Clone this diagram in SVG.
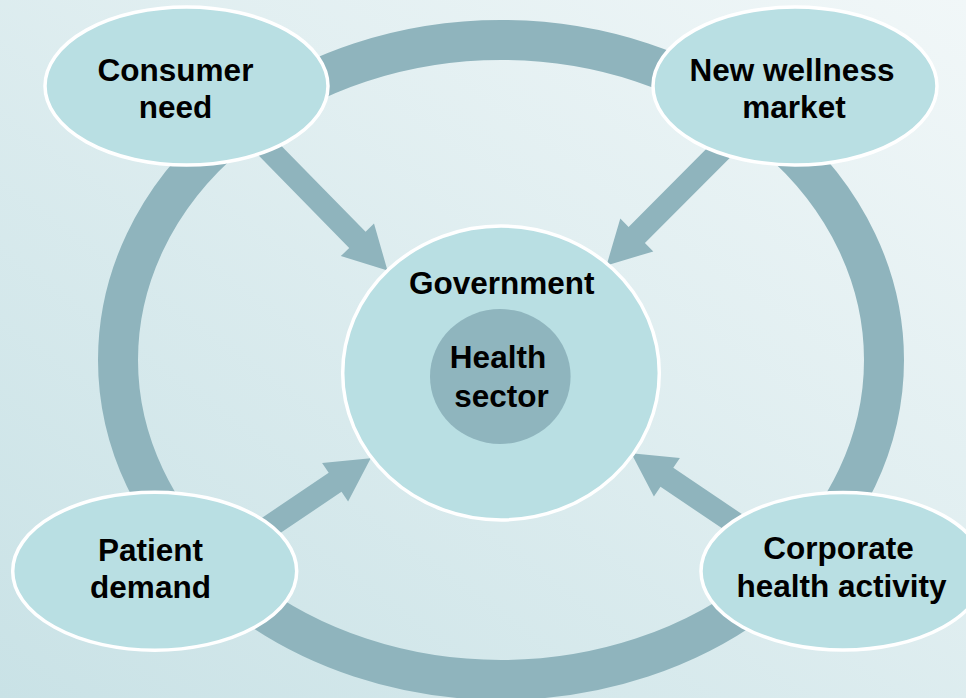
<svg xmlns="http://www.w3.org/2000/svg" width="966" height="698" viewBox="0 0 966 698">
<defs>
<linearGradient id="bg" x1="0" y1="1" x2="1" y2="0">
<stop offset="0" stop-color="#c9e2e6"/>
<stop offset="1" stop-color="#f1f7f8"/>
</linearGradient>
<style>
.node{fill:#b9dfe3;stroke:#ffffff;stroke-width:3.5}
.core{fill:#8fb5be}
.arrow{fill:#8fb4bd}
.ring{fill:none;stroke:#8fb4bd;stroke-width:40}
text{font-family:"Liberation Sans",Arial,sans-serif;font-weight:bold;font-size:31.5px;fill:#000;text-anchor:middle}
</style>
</defs>
<rect x="0" y="0" width="966" height="698" fill="url(#bg)"/>
<g id="cycle">
<ellipse class="ring" cx="501" cy="360" rx="383" ry="320"/>
</g>
<g id="connectors">
<polygon class="arrow" points="253.3,150.1 349.2,247.9 340.8,256.1 387.5,270.5 374,223.5 365.6,231.8 269.7,134"/>
<polygon class="arrow" points="748.7,138.9 644.9,243.1 653.3,251.4 606.5,265.5 620.3,218.6 628.6,226.9 732.3,122.7"/>
<polygon class="arrow" points="236.2,562.8 341.5,491.8 348.1,501.6 370.7,458.3 322.1,463 328.7,472.8 223.4,543.8"/>
<polygon class="arrow" points="765.8,557.8 660.5,486.8 653.9,496.6 631.3,453.3 679.9,458 673.3,467.8 778.6,538.8"/>
</g>
<g id="consumer-need">
<ellipse class="node" cx="186.5" cy="86" rx="141.5" ry="79"/>
<text x="175.5" y="81">Consumer</text>
<text x="175.5" y="118.3">need</text>
</g>
<g id="new-wellness-market">
<ellipse class="node" cx="795" cy="86" rx="142" ry="79"/>
<text x="792" y="81">New wellness</text>
<text x="794" y="118">market</text>
</g>
<g id="patient-demand">
<ellipse class="node" cx="154.7" cy="571.2" rx="142" ry="79"/>
<text x="150.5" y="560.7">Patient</text>
<text x="150.5" y="598.3">demand</text>
</g>
<g id="corporate-health-activity">
<ellipse class="node" cx="843" cy="571.3" rx="142" ry="78.7"/>
<text x="838.5" y="559.3">Corporate</text>
<text x="841.5" y="597.3">health activity</text>
</g>
<g id="government">
<ellipse class="node" cx="501" cy="373" rx="158.3" ry="147"/>
<text x="501.7" y="294.3">Government</text>
</g>
<g id="health-sector">
<ellipse class="core" cx="500.3" cy="376.5" rx="70.3" ry="67.5"/>
<text x="498" y="368.3">Health</text>
<text x="501.5" y="406.7">sector</text>
</g>
</svg>
